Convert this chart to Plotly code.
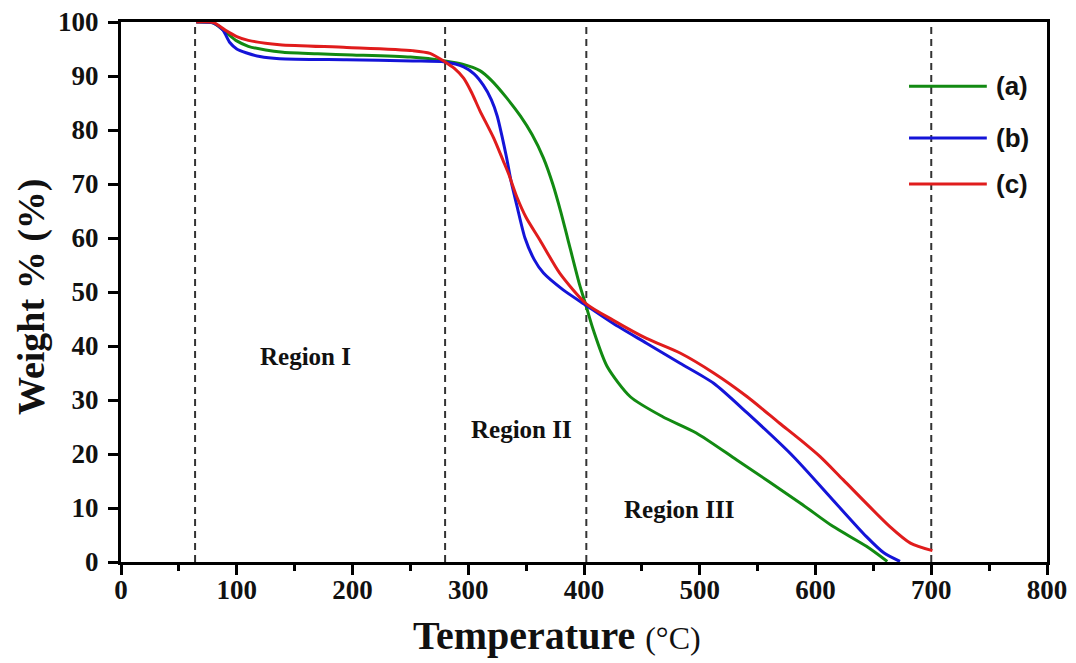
import plotly.graph_objects as go

# ---- data ----
green_T = [65, 80, 90, 100, 110, 125, 140, 170, 200, 250, 280, 295, 310, 320, 333, 345, 355, 365, 373, 380, 386, 396, 401, 408, 420, 440, 468, 497, 532, 587, 615, 644, 662]
green_W = [100, 99.8, 98.2, 96.5, 95.5, 94.8, 94.4, 94.1, 93.9, 93.5, 92.8, 92.2, 91.0, 89.2, 86.0, 82.6, 79.2, 74.8, 70.0, 64.8, 59.8, 51.5, 48.0, 43.0, 36.2, 30.6, 26.9, 23.9, 18.9, 10.9, 6.6, 2.9, 0.1]

blue_T = [65, 80, 88, 94, 100, 108, 120, 137, 195, 252, 280, 296, 305, 313, 320, 325, 329, 333, 337, 342, 349, 357, 365, 382, 402, 425, 454, 483, 512, 541, 581, 615, 644, 659, 673]
blue_W = [100, 99.8, 98.5, 96.2, 95.0, 94.3, 93.6, 93.2, 93.0, 92.8, 92.6, 91.7, 90.4, 88.3, 85.6, 82.6, 79.0, 75.0, 70.5, 66.0, 60.0, 56.0, 53.5, 50.4, 47.5, 44.2, 40.5, 36.8, 33.1, 27.6, 19.5, 11.5, 4.7, 1.7, 0.1]

red_T = [65, 80, 90, 100, 110, 137, 195, 252, 267, 280, 288, 296, 303, 310, 322, 330, 335, 342, 350, 362, 379, 402, 425, 454, 483, 512, 541, 569, 587, 604, 624, 664, 682, 701]
red_W = [100, 99.9, 98.5, 97.3, 96.6, 95.8, 95.3, 94.7, 94.2, 92.6, 91.4, 89.6, 86.9, 83.6, 78.5, 74.4, 71.8, 67.6, 63.8, 59.6, 53.5, 47.8, 44.8, 41.4, 38.7, 35.0, 30.6, 25.7, 22.6, 19.5, 15.2, 6.6, 3.5, 2.1]

series_names = ["(a)", "(b)", "(c)"]
series_colors = ["#128a12", "#1414d8", "#e01c1c"]

region_bounds = [64, 280, 402, 700]
region_labels = ["Region I", "Region II", "Region III"]
region_label_T = [159, 346, 482]
region_label_W = [38, 24.5, 9.7]

x_ticks = [0, 100, 200, 300, 400, 500, 600, 700, 800]
y_ticks = [0, 10, 20, 30, 40, 50, 60, 70, 80, 90, 100]

fig = go.Figure()
for T, W, name, col in zip([green_T, blue_T, red_T], [green_W, blue_W, red_W], series_names, series_colors):
    fig.add_trace(go.Scatter(x=T, y=W, mode="lines", name=name,
                             line=dict(color=col, width=3, shape="spline", smoothing=0.7),
                             showlegend=False))

# dashed region boundaries
for xb in region_bounds:
    fig.add_shape(type="line", xref="x", yref="y", x0=xb, x1=xb, y0=0, y1=100,
                  line=dict(color="#333333", width=2, dash="7px,5px"), layer="below")

# region labels
for txt, tx, ty in zip(region_labels, region_label_T, region_label_W):
    fig.add_annotation(x=tx, y=ty, xref="x", yref="y", text="<b>%s</b>" % txt, showarrow=False,
                       font=dict(family="Liberation Serif", size=25, color="#111111"))

# manual legend (long line samples as in the reference)
leg_y = [0.881, 0.785, 0.700]
for name, col, ly in zip(series_names, series_colors, leg_y):
    fig.add_shape(type="line", xref="paper", yref="paper", x0=0.851, x1=0.935, y0=ly, y1=ly,
                  line=dict(color=col, width=3))
    fig.add_annotation(x=0.943, y=ly, xref="paper", yref="paper", text="<b>%s</b>" % name,
                       showarrow=False, xanchor="left", yanchor="middle",
                       font=dict(family="Liberation Sans", size=26, color="#111111"))

# axis titles
fig.add_annotation(x=0.471, y=-0.137, xref="paper", yref="paper",
                   text="<b>Temperature</b> <span style='font-size:32px'>(°C)</span>",
                   showarrow=False, xanchor="center", yanchor="middle",
                   font=dict(family="Liberation Serif", size=40, color="#111111"))
fig.add_annotation(x=-0.096, y=0.491, xref="paper", yref="paper",
                   text="<b>Weight % (%)</b>", textangle=-90,
                   showarrow=False, xanchor="center", yanchor="middle",
                   font=dict(family="Liberation Serif", size=38, color="#111111"))

tickfont = dict(family="Liberation Serif", size=27, color="#111111", weight="bold")
fig.update_xaxes(range=[0, 800], tickvals=x_ticks, ticktext=[str(v) for v in x_ticks],
                 showgrid=False, zeroline=False, showline=True, linecolor="black", linewidth=3,
                 mirror=True, ticks="outside", ticklen=10, tickwidth=2.5, tickcolor="black",
                 tickfont=tickfont, automargin=False, ticklabelstandoff=-8,
                 ticklabeloverflow="allow",
                 minor=dict(dtick=50, tick0=0, ticks="outside", ticklen=6, tickwidth=2.5,
                            tickcolor="black", showgrid=False))
fig.update_yaxes(range=[0, 100], tickvals=y_ticks, ticktext=[str(v) for v in y_ticks],
                 showgrid=False, zeroline=False, showline=True, linecolor="black", linewidth=3,
                 mirror=True, ticks="outside", ticklen=10, tickwidth=2.5, tickcolor="black",
                 tickfont=tickfont, automargin=False, ticklabelstandoff=4,
                 ticklabeloverflow="allow")

# page body has an 8px margin, so the figure is offset to land where the reference plot is
fig.update_layout(width=1060, height=655, paper_bgcolor="white", plot_bgcolor="white",
                  margin=dict(l=113, r=21, t=14, b=101, autoexpand=False), showlegend=False)

fig.write_html("out.html")
